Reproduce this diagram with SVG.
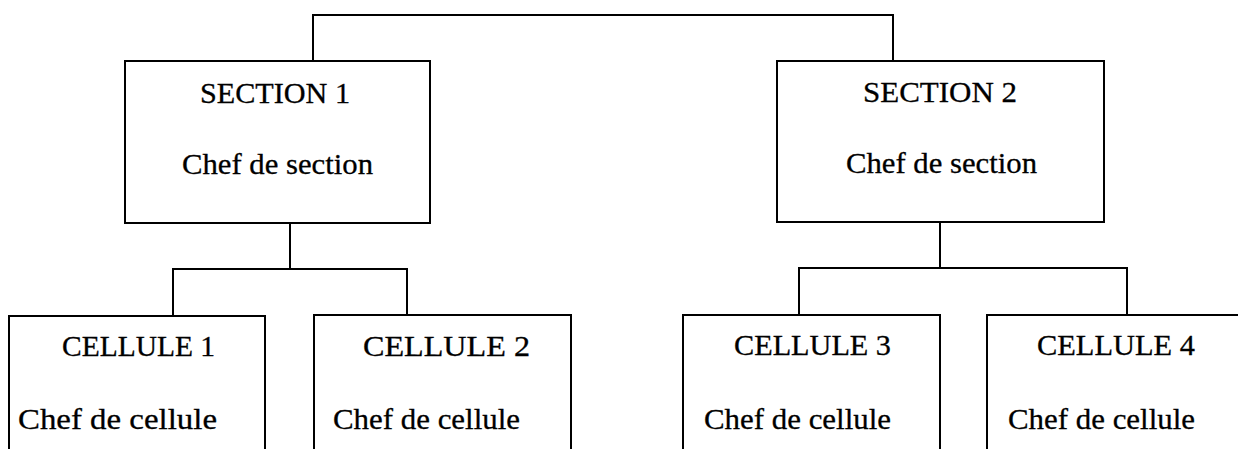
<svg xmlns="http://www.w3.org/2000/svg" width="1238" height="449" viewBox="0 0 1238 449">
<style>
.box{fill:#fff;stroke:#000;stroke-width:2}
.ln{fill:none;stroke:#000;stroke-width:2}
text{font-family:"Liberation Serif","Times New Roman",serif;font-size:30px;fill:#000;stroke:#000;stroke-width:0.3}
</style>
<rect width="1238" height="449" fill="#fff"/>
<g id="connectors">
<polyline class="ln" points="313,61 313,15 893,15 893,61"/>
<line class="ln" x1="290" y1="223" x2="290" y2="269"/>
<polyline class="ln" points="173,316 173,269 407,269 407,316"/>
<line class="ln" x1="940" y1="222" x2="940" y2="268"/>
<polyline class="ln" points="799,315 799,268 1127,268 1127,315"/>
</g>
<g id="section1">
<rect class="box" x="125" y="61" width="305" height="162"/>
<text x="200" y="103" textLength="150" lengthAdjust="spacingAndGlyphs">SECTION 1</text>
<text x="182" y="174" textLength="191" lengthAdjust="spacingAndGlyphs">Chef de section</text>
</g>
<g id="section2">
<rect class="box" x="777" y="61" width="327" height="161"/>
<text x="863" y="102" textLength="154" lengthAdjust="spacingAndGlyphs">SECTION 2</text>
<text x="846" y="173" textLength="191" lengthAdjust="spacingAndGlyphs">Chef de section</text>
</g>
<g id="cellule1">
<rect class="box" x="9" y="316" width="256" height="150"/>
<text x="62" y="356" textLength="153" lengthAdjust="spacingAndGlyphs">CELLULE 1</text>
<text x="18" y="429" textLength="199" lengthAdjust="spacingAndGlyphs">Chef de cellule</text>
</g>
<g id="cellule2">
<rect class="box" x="314" y="315" width="257" height="150"/>
<text x="363" y="356" textLength="167" lengthAdjust="spacingAndGlyphs">CELLULE 2</text>
<text x="333" y="429" textLength="187" lengthAdjust="spacingAndGlyphs">Chef de cellule</text>
</g>
<g id="cellule3">
<rect class="box" x="683" y="315" width="257" height="150"/>
<text x="734" y="355" textLength="157" lengthAdjust="spacingAndGlyphs">CELLULE 3</text>
<text x="704" y="429" textLength="187" lengthAdjust="spacingAndGlyphs">Chef de cellule</text>
</g>
<g id="cellule4">
<rect class="box" x="987" y="315" width="270" height="150"/>
<text x="1037" y="355" textLength="158" lengthAdjust="spacingAndGlyphs">CELLULE 4</text>
<text x="1008" y="429" textLength="187" lengthAdjust="spacingAndGlyphs">Chef de cellule</text>
</g>
</svg>
